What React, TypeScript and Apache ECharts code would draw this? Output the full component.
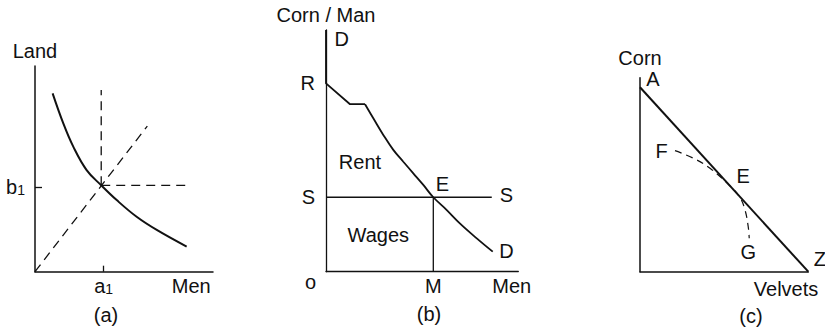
import React, { useEffect, useRef } from "react";
import * as echarts from "echarts";

const FONT = "Liberation Sans, Arial, Helvetica, sans-serif";
const INK = "#111";

// (a) isoquant in the Land / Men plane
const isoquantMen = [9.9, 15.9, 21.5, 29.0, 37.2, 45.9, 57.1, 68.4, 85.2];
const isoquantLand = [86.7, 72.1, 60.8, 49.4, 42.0, 34.8, 26.7, 20.3, 12.2];
const optimumA = [37.2, 42.0];
const rayEnd = [63.1, 70.8];
const guideTopLand = 88.3;
const guideEndMen = 87.1;
const a1Value = 38.6;
const b1Value = 41.0;

// (b) demand for labour against the subsistence wage
const demandKinkMen = [0, 0, 12.5, 20.3];
const demandKinkCorn = [100, 77.9, 69.3, 69.3];
const demandCurveMen = [20.3, 24.6, 29.8, 35.0, 40.2, 45.4, 50.6, 55.8, 62.8, 69.6, 78.4, 86.7];
const demandCurveCorn = [69.3, 63.5, 56.6, 50.4, 45.5, 40.7, 35.9, 30.8, 25.5, 20.0, 13.8, 8.3];
const wageLevel = 30.8;
const supplyEndMen = 86.2;
const menEmployed = 55.8;
const rentLevel = 77.9;
const rentTextAt = [17.7, 45.2];
const wagesTextAt = [27.2, 15.2];

// (c) Corn / Velvets trade line and production frontier
const tradeVelvets = [0, 100];
const tradeCorn = [95.1, 0];
const frontierVelvets = [20.8, 31.7, 41.6, 53.5, 59.4, 62.4, 64.3, 64.9];
const frontierCorn = [62.4, 58.5, 53.3, 44.2, 38.2, 31.8, 23.2, 17.2];
const tangencyC = [53.5, 44.2];

const zip = (xs: number[], ys: number[]) => xs.map((x, i) => [x, ys[i]]);

const txt = { fontFamily: FONT, fontSize: 20, color: INK };

function axis(grid: number, width: number, extra: any = {}) {
  return {
    type: "value",
    gridIndex: grid,
    min: 0,
    max: 100,
    splitLine: { show: false },
    axisTick: { show: false },
    axisLabel: { show: false },
    axisLine: { show: true, onZero: false, lineStyle: { color: INK, width } },
    nameTextStyle: { ...txt },
    ...extra,
  };
}

function line(grid: number, data: number[][], width: number, opts: any = {}) {
  return {
    type: "line",
    xAxisIndex: grid,
    yAxisIndex: grid,
    data,
    symbol: "none",
    showSymbol: false,
    silent: true,
    clip: false,
    smooth: opts.smooth ?? false,
    lineStyle: { color: INK, width, type: opts.dash ?? "solid", cap: "butt" },
    z: 3,
  };
}

function labels(grid: number, items: { text: string; at: number[]; dx?: number; dy?: number }[]) {
  return {
    type: "scatter",
    xAxisIndex: grid,
    yAxisIndex: grid,
    symbolSize: 0.1,
    silent: true,
    clip: false,
    itemStyle: { color: "rgba(0,0,0,0)" },
    z: 5,
    data: items.map((it) => ({
      value: it.at,
      label: {
        show: true,
        position: [0, 0],
        formatter: it.text,
        offset: [it.dx ?? 0, it.dy ?? 0],
        align: "center",
        verticalAlign: "middle",
        ...txt,
        textBorderWidth: 0,
        opacity: 1,
      },
    })),
  };
}

const subRich = {
  m: { ...txt, verticalAlign: "top", lineHeight: 20 },
  s: { fontFamily: FONT, fontSize: 14, color: INK, verticalAlign: "bottom", lineHeight: 14, padding: [11, 0, 0, 0] },
};

function caption(text: string, x: number, y: number) {
  return {
    type: "text",
    x,
    y,
    silent: true,
    style: {
      text,
      fill: INK,
      font: `20px ${FONT}`,
      fontSize: 20,
      fontFamily: FONT,
      align: "center",
      verticalAlign: "middle",
      textAlign: "center",
      textVerticalAlign: "middle",
    },
  };
}

export default function App() {
  const ref = useRef<HTMLDivElement>(null);

  useEffect(() => {
    if (!ref.current) return;
    const chart = echarts.init(ref.current, undefined, { renderer: "svg" });
    const dashed = [9, 6];

    chart.setOption({
      animation: false,
      backgroundColor: "#fff",
      grid: [
        { left: 35, top: 66, width: 178, height: 205.7 },
        { left: 326, top: 30, width: 192.3, height: 241.7 },
        { left: 640, top: 77.7, width: 168.3, height: 194 },
      ],
      xAxis: [
        axis(0, 1.5, {
          name: "Men",
          nameLocation: "end",
          nameGap: -2.3,
          nameTextStyle: { ...txt, align: "right", verticalAlign: "top", padding: [4, 0, 0, 0] },
          axisTick: { show: true, inside: true, length: 6, customValues: [a1Value], lineStyle: { color: INK, width: 1.3 } },
          axisLabel: {
            show: true,
            customValues: [a1Value],
            margin: 4,
            formatter: () => "{m|a}{s|1}",
            rich: subRich,
          },
        }),
        axis(1, 1.3, {
          name: "Men",
          nameLocation: "end",
          nameGap: -6.6,
          nameTextStyle: { ...txt, align: "center", verticalAlign: "top", padding: [4, 0, 0, 0] },
          axisLabel: { show: true, customValues: [menEmployed], margin: 4, formatter: () => "M", ...txt },
        }),
        axis(2, 1.5, {
          name: "Velvets",
          nameLocation: "end",
          nameGap: 10,
          nameTextStyle: { ...txt, align: "right", verticalAlign: "top", padding: [7, 0, 0, 0] },
        }),
      ],
      yAxis: [
        axis(0, 1.5, {
          name: "Land",
          nameLocation: "end",
          nameGap: 5,
          axisTick: { show: true, inside: true, length: 7, customValues: [b1Value], lineStyle: { color: INK, width: 1.3 } },
          axisLabel: {
            show: true,
            customValues: [b1Value],
            margin: 10,
            formatter: () => "{m|b}{s|1}",
            rich: subRich,
          },
        }),
        axis(1, 1.3, {
          name: "Corn / Man",
          nameLocation: "end",
          nameGap: 5,
          axisLabel: {
            show: true,
            customValues: [wageLevel, rentLevel],
            margin: 11,
            formatter: (v: number) => (v === rentLevel ? "R" : "S"),
            ...txt,
          },
        }),
        axis(2, 1.5, { name: "Corn", nameLocation: "end", nameGap: 10 }),
      ],
      series: [
        // (a)
        line(0, zip(isoquantMen, isoquantLand), 2, { smooth: 0.4 }),
        line(0, [[0, 0], rayEnd], 1.3, { dash: dashed }),
        line(0, [optimumA, [optimumA[0], guideTopLand]], 1.3, { dash: dashed }),
        line(0, [optimumA, [guideEndMen, optimumA[1]]], 1.3, { dash: dashed }),
        // (b)
        line(1, zip(demandKinkMen, demandKinkCorn), 1.8),
        line(1, zip(demandCurveMen, demandCurveCorn), 1.8, { smooth: 0.4 }),
        line(1, [[0, wageLevel], [supplyEndMen, wageLevel]], 1.3),
        line(1, [[menEmployed, 0], [menEmployed, wageLevel]], 1.3),
        labels(1, [
          { text: "D", at: [0, 100], dx: 15.7, dy: 9 },
          { text: "o", at: [0, 0], dx: -15.5, dy: 10.6 },
          { text: "Rent", at: rentTextAt },
          { text: "Wages", at: wagesTextAt },
          { text: "E", at: [menEmployed, wageLevel], dx: 9.2, dy: -13 },
          { text: "S", at: [supplyEndMen, wageLevel], dx: 14.6, dy: -2 },
          { text: "D", at: [demandCurveMen[demandCurveMen.length - 1], demandCurveCorn[demandCurveCorn.length - 1]], dx: 13.7, dy: -1 },
        ]),
        // (c)
        line(2, zip(tradeVelvets, tradeCorn), 2),
        line(2, zip(frontierVelvets, frontierCorn), 1.2, { smooth: 0.4, dash: [7, 5] }),
        labels(2, [
          { text: "A", at: [tradeVelvets[0], tradeCorn[0]], dx: 13, dy: -8 },
          { text: "F", at: [frontierVelvets[0], frontierCorn[0]], dx: -13.3, dy: 0 },
          { text: "E", at: tangencyC, dx: 13.3, dy: -10.2 },
          { text: "G", at: [frontierVelvets[frontierVelvets.length - 1], frontierCorn[frontierCorn.length - 1]], dx: -0.8, dy: 14 },
          { text: "Z", at: [tradeVelvets[1], tradeCorn[1]], dx: 11.7, dy: -12.7 },
        ]),
      ],
      graphic: [caption("(a)", 106, 315), caption("(b)", 429, 314), caption("(c)", 751, 316)],
    });

    return () => chart.dispose();
  }, []);

  return (
    <div
      ref={ref}
      style={{ position: "fixed", left: 0, top: 0, width: 825, height: 332, background: "#fff" }}
    />
  );
}
